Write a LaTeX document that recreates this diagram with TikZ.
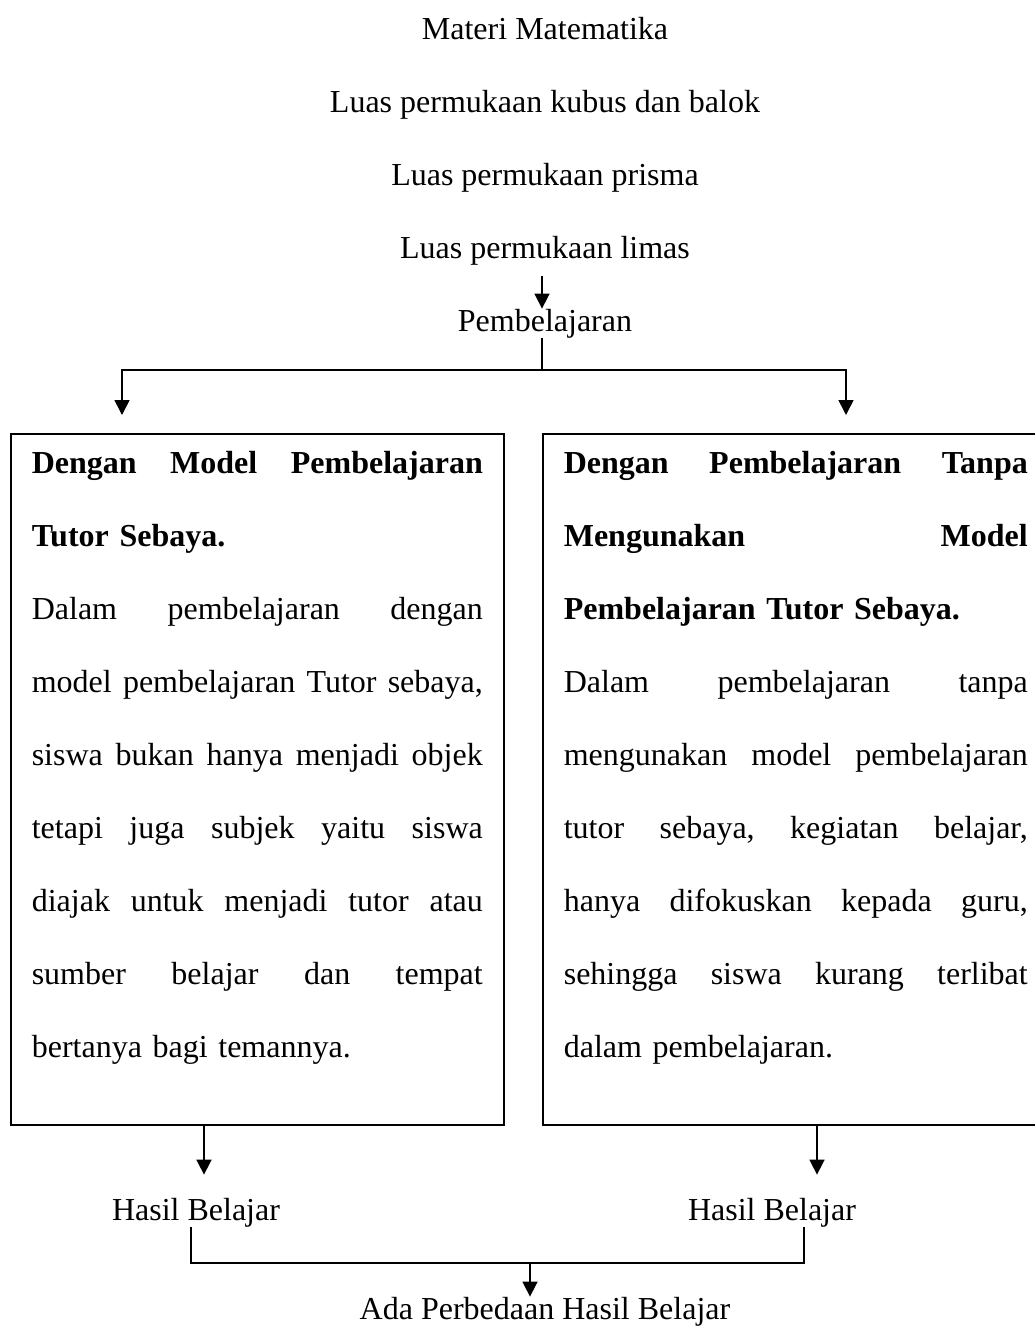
\documentclass[tikz,border=0pt]{standalone}
\usepackage{fontspec}
\setmainfont{Liberation Serif}
\usetikzlibrary{arrows.meta}
\newcommand\jline[2]{\leavevmode\hbox to #1{\frenchspacing\spaceskip=0.25em plus 1fil\relax#2}}
\begin{document}
\begin{tikzpicture}[x=1pt,y=-1pt,
  every node/.style={font=\fontsize{32}{73}\selectfont, inner sep=0pt},
  txt/.style={anchor=base},
  box/.style={draw, line width=1.6pt, anchor=north west, inner xsep=21pt, inner ysep=0pt, align=left},
  ln/.style={line width=1.6pt},
  arr/.style={ln, -{Triangle[length=15pt,width=15pt]}}]
\useasboundingbox (0,0) rectangle (1035,1326);

\node[txt] (m1) at (545,39) {Materi Matematika};
\node[txt] (m2) at (545,112) {Luas permukaan kubus dan balok};
\node[txt] (m3) at (545,185) {Luas permukaan prisma};
\node[txt] (m4) at (545,258) {Luas permukaan limas};
\node[txt] (pb) at (545,331) {Pembelajaran};

\node[box, text width=451pt] (L) at (10,433) {\noindent\rule{0pt}{40pt}\jline{451pt}{\bfseries Dengan Model Pembelajaran}\\
\textbf{Tutor Sebaya.}\\
\jline{451pt}{Dalam pembelajaran dengan}\\
\jline{451pt}{model pembelajaran Tutor sebaya,}\\
\jline{451pt}{siswa bukan hanya menjadi objek}\\
\jline{451pt}{tetapi juga subjek yaitu siswa}\\
\jline{451pt}{diajak untuk menjadi tutor atau}\\
\jline{451pt}{sumber belajar dan tempat}\\
bertanya bagi temannya.\rule[-67pt]{0pt}{67pt}};

\node[box, text width=464pt] (R) at (542,433) {\noindent\rule{0pt}{40pt}\jline{464pt}{\bfseries Dengan Pembelajaran Tanpa}\\
\jline{464pt}{\bfseries Mengunakan Model}\\
\textbf{Pembelajaran Tutor Sebaya.}\\
\jline{464pt}{Dalam pembelajaran tanpa}\\
\jline{464pt}{mengunakan model pembelajaran}\\
\jline{464pt}{tutor sebaya, kegiatan belajar,}\\
\jline{464pt}{hanya difokuskan kepada guru,}\\
\jline{464pt}{sehingga siswa kurang terlibat}\\
dalam pembelajaran.\rule[-67pt]{0pt}{67pt}};

\node[txt] (h1) at (196,1220) {Hasil Belajar};
\node[txt] (h2) at (772,1220) {Hasil Belajar};
\node[txt] (ada) at (545,1319) {Ada Perbedaan Hasil Belajar};

\coordinate (a0) at (542,0);
\draw[arr, shorten <=11pt] (m4.south -| a0) -- (pb.north -| a0);
\coordinate (j) at (542,370);
\draw[ln] (pb.south -| j) -- (j);
\coordinate (aL) at (122,0);
\coordinate (aR) at (846,0);
\draw[arr, shorten >=18pt] (j) -| (L.north -| aL);
\draw[arr, shorten >=18pt] (j) -| (R.north -| aR);
\coordinate (bL) at (204,0);
\coordinate (bR) at (817,0);
\draw[arr, shorten >=23pt] (L.south -| bL) -- (h1.north -| bL);
\draw[arr, shorten >=23pt] (R.south -| bR) -- (h2.north -| bR);
\coordinate (c1) at (191,1263);
\coordinate (c2) at (804,1263);
\coordinate (c3) at (530,1263);
\draw[ln] (h1.south -| c1) -- (c1) -- (c2) -- (h2.south -| c2);
\draw[arr] (c3) -- (ada.north -| c3);
\end{tikzpicture}
\end{document}
